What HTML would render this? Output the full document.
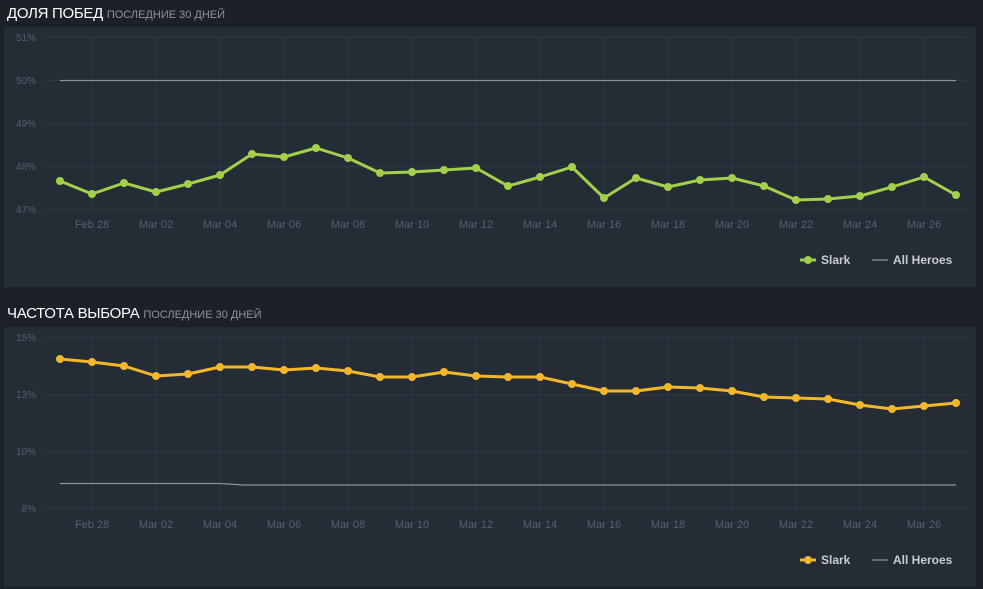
<!DOCTYPE html>
<html><head><meta charset="utf-8"><style>
html,body{margin:0;padding:0;background:#1c2129;width:983px;height:589px;overflow:hidden;font-family:"Liberation Sans","DejaVu Sans",sans-serif}
.t{position:absolute;left:7px;color:#fff;font-size:15px;letter-spacing:-0.3px}
.t span{color:#8b939c;font-size:11px;letter-spacing:0}
.p{position:absolute;left:4px;width:972px;height:260px;background:#242c36}
svg{position:absolute;left:0;top:0}
</style></head><body>
<div class="t" style="top:5px">ДОЛЯ ПОБЕД <span>ПОСЛЕДНИЕ 30 ДНЕЙ</span></div>
<div class="p" style="top:27px"></div>
<div class="t" style="top:305px">ЧАСТОТА ВЫБОРА <span>ПОСЛЕДНИЕ 30 ДНЕЙ</span></div>
<div class="p" style="top:327px"></div>
<svg width="983" height="589" font-family="Liberation Sans, sans-serif">
<g stroke="#2e3742" stroke-width="1">
<line x1="45" x2="966" y1="37.5" y2="37.5"/><line x1="45" x2="966" y1="80.5" y2="80.5"/><line x1="45" x2="966" y1="123.5" y2="123.5"/><line x1="45" x2="966" y1="166.5" y2="166.5"/><line x1="45" x2="966" y1="209.5" y2="209.5"/>
<line x1="45" x2="966" y1="337.5" y2="337.5"/><line x1="45" x2="966" y1="394.5" y2="394.5"/><line x1="45" x2="966" y1="451.5" y2="451.5"/><line x1="45" x2="966" y1="508.5" y2="508.5"/>
<g id="vg"><line x1="92.5" x2="92.5" y1="37" y2="210"/><line x1="156.5" x2="156.5" y1="37" y2="210"/><line x1="220.5" x2="220.5" y1="37" y2="210"/><line x1="284.5" x2="284.5" y1="37" y2="210"/><line x1="348.5" x2="348.5" y1="37" y2="210"/><line x1="412.5" x2="412.5" y1="37" y2="210"/><line x1="476.5" x2="476.5" y1="37" y2="210"/><line x1="540.5" x2="540.5" y1="37" y2="210"/><line x1="604.5" x2="604.5" y1="37" y2="210"/><line x1="668.5" x2="668.5" y1="37" y2="210"/><line x1="732.5" x2="732.5" y1="37" y2="210"/><line x1="796.5" x2="796.5" y1="37" y2="210"/><line x1="860.5" x2="860.5" y1="37" y2="210"/><line x1="924.5" x2="924.5" y1="37" y2="210"/></g>
<g transform="translate(0,300)"><line x1="92.5" x2="92.5" y1="37" y2="210"/><line x1="156.5" x2="156.5" y1="37" y2="210"/><line x1="220.5" x2="220.5" y1="37" y2="210"/><line x1="284.5" x2="284.5" y1="37" y2="210"/><line x1="348.5" x2="348.5" y1="37" y2="210"/><line x1="412.5" x2="412.5" y1="37" y2="210"/><line x1="476.5" x2="476.5" y1="37" y2="210"/><line x1="540.5" x2="540.5" y1="37" y2="210"/><line x1="604.5" x2="604.5" y1="37" y2="210"/><line x1="668.5" x2="668.5" y1="37" y2="210"/><line x1="732.5" x2="732.5" y1="37" y2="210"/><line x1="796.5" x2="796.5" y1="37" y2="210"/><line x1="860.5" x2="860.5" y1="37" y2="210"/><line x1="924.5" x2="924.5" y1="37" y2="210"/></g>
</g>
<g fill="#56606b" font-size="10" text-anchor="end">
<text x="36" y="41">51%</text><text x="36" y="84">50%</text><text x="36" y="127">49%</text><text x="36" y="170">48%</text><text x="36" y="213">47%</text>
<text x="36" y="341">15%</text><text x="36" y="398">13%</text><text x="36" y="455">10%</text><text x="36" y="512">8%</text>
</g>
<g fill="#56606b" font-size="11" text-anchor="middle">
<g id="xl"><text x="92" y="228">Feb 28</text><text x="156" y="228">Mar 02</text><text x="220" y="228">Mar 04</text><text x="284" y="228">Mar 06</text><text x="348" y="228">Mar 08</text><text x="412" y="228">Mar 10</text><text x="476" y="228">Mar 12</text><text x="540" y="228">Mar 14</text><text x="604" y="228">Mar 16</text><text x="668" y="228">Mar 18</text><text x="732" y="228">Mar 20</text><text x="796" y="228">Mar 22</text><text x="860" y="228">Mar 24</text><text x="924" y="228">Mar 26</text></g>
<use href="#xl" transform="translate(0,300)"/>
</g>
<line x1="60" x2="956" y1="80.5" y2="80.5" stroke="#8a9199" stroke-width="1.3"/>
<polyline fill="none" stroke="#8a9199" stroke-width="1.3" points="60,483.5 220,483.5 244,485 956,485"/>
<polyline fill="none" stroke="#a3cf4a" stroke-width="3" stroke-linejoin="round" points="60,181 92,194 124,183 156,192 188,184 220,175 252,154 284,157 316,148 348,158 380,173 412,172 444,170 476,168 508,186 540,177 572,167 604,198 636,178 668,187 700,180 732,178 764,186 796,200 828,199 860,196 892,187 924,177 956,195"/>
<g fill="#a3cf4a" id="gd"><circle cx="60" cy="181" r="4"/><circle cx="92" cy="194" r="4"/><circle cx="124" cy="183" r="4"/><circle cx="156" cy="192" r="4"/><circle cx="188" cy="184" r="4"/><circle cx="220" cy="175" r="4"/><circle cx="252" cy="154" r="4"/><circle cx="284" cy="157" r="4"/><circle cx="316" cy="148" r="4"/><circle cx="348" cy="158" r="4"/><circle cx="380" cy="173" r="4"/><circle cx="412" cy="172" r="4"/><circle cx="444" cy="170" r="4"/><circle cx="476" cy="168" r="4"/><circle cx="508" cy="186" r="4"/><circle cx="540" cy="177" r="4"/><circle cx="572" cy="167" r="4"/><circle cx="604" cy="198" r="4"/><circle cx="636" cy="178" r="4"/><circle cx="668" cy="187" r="4"/><circle cx="700" cy="180" r="4"/><circle cx="732" cy="178" r="4"/><circle cx="764" cy="186" r="4"/><circle cx="796" cy="200" r="4"/><circle cx="828" cy="199" r="4"/><circle cx="860" cy="196" r="4"/><circle cx="892" cy="187" r="4"/><circle cx="924" cy="177" r="4"/><circle cx="956" cy="195" r="4"/></g>
<polyline fill="none" stroke="#f3b72b" stroke-width="3" stroke-linejoin="round" points="60,359 92,362 124,366 156,376 188,374 220,367 252,367 284,370 316,368 348,371 380,377 412,377 444,372 476,376 508,377 540,377 572,384 604,391 636,391 668,387 700,388 732,391 764,397 796,398 828,399 860,405 892,409 924,406 956,403"/>
<g fill="#f3b72b"><circle cx="60" cy="359" r="4"/><circle cx="92" cy="362" r="4"/><circle cx="124" cy="366" r="4"/><circle cx="156" cy="376" r="4"/><circle cx="188" cy="374" r="4"/><circle cx="220" cy="367" r="4"/><circle cx="252" cy="367" r="4"/><circle cx="284" cy="370" r="4"/><circle cx="316" cy="368" r="4"/><circle cx="348" cy="371" r="4"/><circle cx="380" cy="377" r="4"/><circle cx="412" cy="377" r="4"/><circle cx="444" cy="372" r="4"/><circle cx="476" cy="376" r="4"/><circle cx="508" cy="377" r="4"/><circle cx="540" cy="377" r="4"/><circle cx="572" cy="384" r="4"/><circle cx="604" cy="391" r="4"/><circle cx="636" cy="391" r="4"/><circle cx="668" cy="387" r="4"/><circle cx="700" cy="388" r="4"/><circle cx="732" cy="391" r="4"/><circle cx="764" cy="397" r="4"/><circle cx="796" cy="398" r="4"/><circle cx="828" cy="399" r="4"/><circle cx="860" cy="405" r="4"/><circle cx="892" cy="409" r="4"/><circle cx="924" cy="406" r="4"/><circle cx="956" cy="403" r="4"/></g>
<g font-size="12" font-weight="bold" fill="#c8ccd0">
<line x1="800" x2="816" y1="260" y2="260" stroke="#a3cf4a" stroke-width="3"/><circle cx="808" cy="260" r="4" fill="#a3cf4a"/>
<text x="821" y="264">Slark</text>
<line x1="872" x2="888" y1="260" y2="260" stroke="#8a9199" stroke-width="1.3"/>
<text x="893" y="264">All Heroes</text>
<line x1="800" x2="816" y1="560" y2="560" stroke="#f3b72b" stroke-width="3"/><circle cx="808" cy="560" r="4" fill="#f3b72b"/>
<text x="821" y="564">Slark</text>
<line x1="872" x2="888" y1="560" y2="560" stroke="#8a9199" stroke-width="1.3"/>
<text x="893" y="564">All Heroes</text>
</g>
</svg>
</body></html>
